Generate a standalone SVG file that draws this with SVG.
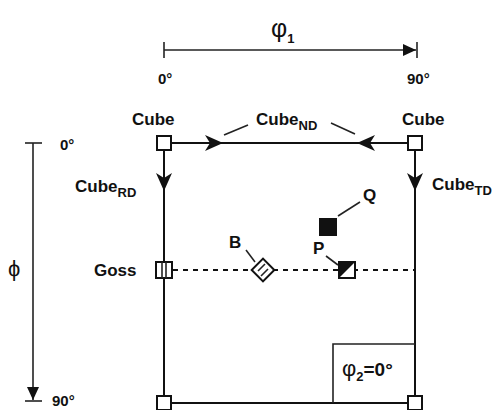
<svg xmlns="http://www.w3.org/2000/svg" width="499" height="410" viewBox="0 0 499 410">
<style>
text{font-family:"Liberation Sans",Arial,sans-serif;font-size:17px;fill:#111;font-weight:bold}
.sub{font-size:13px}
.deg{font-size:15px}
.ln{stroke:#111;stroke-width:2;fill:none}
.ax{stroke:#222;stroke-width:1.6;fill:none}
.nd{fill:#fff;stroke:#111;stroke-width:2}
</style>
<defs>
<marker id="ah" viewBox="0 0 18 16" refX="17" refY="8" markerWidth="18" markerHeight="16" markerUnits="userSpaceOnUse" orient="auto">
<path d="M0,0 L18,8 L0,16 L5,8 Z" fill="#111"/>
</marker>
<marker id="fa" viewBox="0 0 13 12" refX="13" refY="6" markerWidth="13" markerHeight="12" markerUnits="userSpaceOnUse" orient="auto">
<path d="M0,0 L13,6 L0,12 Z" fill="#111"/>
</marker>
</defs>
<g id="axes">
<line class="ax" x1="164" y1="50" x2="416" y2="50" marker-end="url(#fa)"/>
<line class="ax" x1="164" y1="42" x2="164" y2="58"/>
<line class="ax" x1="417" y1="42" x2="417" y2="58"/>
<text x="271" y="37" style="font-size:25px;font-weight:normal">φ<tspan class="sub" dy="6" style="font-weight:bold">1</tspan></text>
<text class="deg" x="158" y="84">0°</text>
<text class="deg" x="407" y="84">90°</text>
<line class="ax" x1="33" y1="143" x2="33" y2="400" marker-end="url(#fa)"/>
<line class="ax" x1="25" y1="143" x2="42" y2="143"/>
<line class="ax" x1="25" y1="401" x2="42" y2="401"/>
<text class="deg" x="60" y="150">0°</text>
<text class="deg" x="52" y="406">90°</text>
<text x="8" y="276" style="font-size:22px;font-weight:normal">ϕ</text>
</g>
<g id="connectors">
<line class="ln" x1="171" y1="143" x2="222" y2="143" marker-end="url(#ah)"/>
<line class="ln" x1="222" y1="143" x2="358" y2="143"/>
<line class="ln" x1="408" y1="143" x2="358" y2="143" marker-end="url(#ah)"/>
<line class="ln" x1="164" y1="150" x2="164" y2="190" marker-end="url(#ah)"/>
<line class="ln" x1="164" y1="189" x2="164" y2="395"/>
<line class="ln" x1="415" y1="150" x2="415" y2="190" marker-end="url(#ah)"/>
<line class="ln" x1="415" y1="189" x2="415" y2="395"/>
<line class="ln" x1="171" y1="403" x2="408" y2="403"/>
<line x1="173" y1="270" x2="415" y2="270" stroke="#111" stroke-width="2" stroke-dasharray="5,5"/>
<line class="ax" x1="224" y1="135" x2="248" y2="125"/>
<line class="ax" x1="331" y1="123" x2="355" y2="134"/>
<line class="ax" x1="246" y1="250" x2="255" y2="262"/>
<line class="ax" x1="326" y1="256" x2="338" y2="265"/>
<line class="ax" x1="338" y1="216" x2="360" y2="202"/>
</g>
<g id="cube-tl"><rect class="nd" x="157" y="136" width="14" height="14"/><text x="132" y="125">Cube</text></g>
<g id="cube-tr"><rect class="nd" x="408" y="136" width="14" height="14"/><text x="402" y="125">Cube</text></g>
<g id="cube-bl"><rect class="nd" x="157" y="396" width="14" height="14"/></g>
<g id="cube-br"><rect class="nd" x="408" y="396" width="14" height="14"/></g>
<g id="cube-nd"><text x="256" y="125">Cube<tspan class="sub" dy="5">ND</tspan></text></g>
<g id="cube-rd"><text x="75" y="192">Cube<tspan class="sub" dy="5">RD</tspan></text></g>
<g id="cube-td"><text x="432" y="190">Cube<tspan class="sub" dy="5">TD</tspan></text></g>
<g id="goss"><rect class="nd" x="156" y="262" width="16" height="16"/><line class="ax" x1="162" y1="262" x2="162" y2="278"/><line class="ax" x1="166" y1="262" x2="166" y2="278"/><text x="94" y="276">Goss</text></g>
<g id="b"><rect class="nd" x="255" y="262" width="16" height="16" transform="rotate(45 263 270)"/><line class="ax" x1="258" y1="271" x2="265" y2="264" /><line class="ax" x1="261" y1="276" x2="268" y2="269"/><text x="229" y="248">B</text></g>
<g id="p"><rect class="nd" x="339" y="262" width="16" height="16"/><path d="M339,262 H355 L339,278 Z" fill="#111"/><text x="313" y="254">P</text></g>
<g id="q"><rect x="319" y="218" width="18" height="18" fill="#111"/><text x="363" y="201">Q</text></g>
<g id="phi2"><path class="ax" d="M333,403 V344 H415"/><text x="342" y="376" style="font-size:22px;font-weight:normal">φ<tspan class="sub" dy="5" style="font-weight:bold">2</tspan><tspan dy="-5" style="font-size:19px;font-weight:bold">=0°</tspan></text></g>
</svg>
